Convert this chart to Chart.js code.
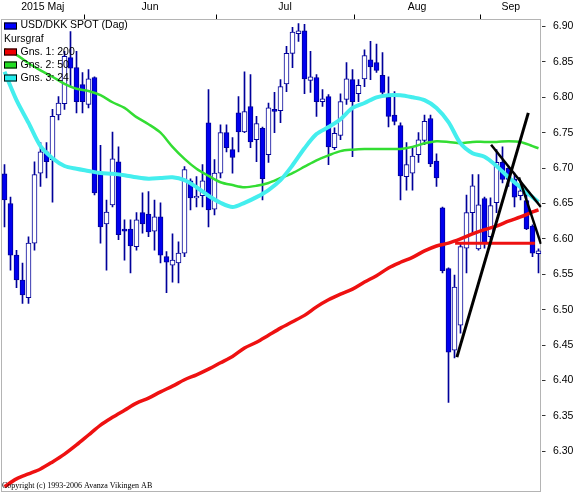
<!DOCTYPE html>
<html><head><meta charset="utf-8">
<script src="https://cdn.jsdelivr.net/npm/chart.js@4.4.1/dist/chart.umd.min.js"></script>
<style>html,body{margin:0;padding:0;background:#fff;overflow:hidden}canvas{display:block}</style>
</head><body>
<canvas id="c" width="576" height="492"></canvas>
<script>
// ---- Data ----
const monthLabels = ['2015 Maj', 'Jun', 'Jul', 'Aug', 'Sep'];
const monthStartIdx = [13, 35, 58, 79];           // first trading day of Jun, Jul, Aug, Sep
const yTickValues = [6.30, 6.35, 6.40, 6.45, 6.50, 6.55, 6.60, 6.65, 6.70, 6.75, 6.80, 6.85, 6.90];

const openP = [6.692,6.650,6.577,6.542,6.517,6.594,6.693,6.723,6.712,6.775,
6.791,6.856,6.842,6.818,6.790,6.828,6.692,6.621,6.648,6.709,
6.614,6.614,6.589,6.637,6.635,6.611,6.631,6.575,6.563,6.566,
6.580,6.682,6.658,6.661,6.764,6.642,6.693,6.750,6.726,6.778,
6.751,6.787,6.740,6.756,6.719,6.783,6.781,6.819,6.862,6.890,
6.894,6.824,6.828,6.794,6.801,6.729,6.746,6.797,6.825,6.805,
6.826,6.853,6.849,6.831,6.800,6.775,6.760,6.688,6.693,6.719,
6.739,6.770,6.710,6.644,6.558,6.443,6.478,6.587,6.637,6.586,
6.657,6.603,6.651,6.708,6.700,6.684,6.661,6.654,6.618,6.579];
const highP = [6.705,6.659,6.584,6.566,6.603,6.709,6.736,6.736,6.783,6.801,
6.865,6.893,6.865,6.835,6.839,6.829,6.732,6.655,6.751,6.730,
6.627,6.627,6.637,6.665,6.667,6.655,6.651,6.582,6.607,6.596,
6.702,6.685,6.688,6.705,6.811,6.712,6.761,6.761,6.743,6.801,
6.836,6.832,6.773,6.758,6.792,6.807,6.825,6.872,6.899,6.904,
6.903,6.865,6.832,6.811,6.804,6.757,6.805,6.849,6.839,6.825,
6.867,6.879,6.875,6.863,6.829,6.808,6.764,6.736,6.729,6.750,
6.775,6.775,6.720,6.645,6.559,6.549,6.594,6.662,6.691,6.691,
6.659,6.658,6.726,6.730,6.702,6.693,6.676,6.669,6.620,6.586];
const lowP = [6.617,6.556,6.531,6.509,6.509,6.584,6.674,6.686,6.652,6.768,
6.783,6.815,6.778,6.778,6.785,6.662,6.594,6.556,6.645,6.599,
6.570,6.552,6.584,6.608,6.603,6.584,6.566,6.524,6.539,6.538,
6.575,6.641,6.645,6.645,6.617,6.634,6.686,6.723,6.693,6.723,
6.750,6.729,6.709,6.655,6.708,6.750,6.764,6.808,6.842,6.879,
6.805,6.807,6.773,6.787,6.705,6.726,6.740,6.790,6.716,6.794,
6.815,6.825,6.835,6.804,6.758,6.761,6.655,6.669,6.669,6.708,
6.733,6.702,6.674,6.552,6.369,6.432,6.467,6.552,6.608,6.584,
6.587,6.599,6.637,6.679,6.674,6.645,6.655,6.613,6.575,6.552];
const closeP = [6.655,6.577,6.542,6.521,6.594,6.691,6.723,6.709,6.773,6.792,
6.858,6.841,6.794,6.794,6.826,6.665,6.617,6.638,6.713,6.606,
6.611,6.590,6.627,6.621,6.610,6.631,6.577,6.567,6.570,6.580,
6.698,6.658,6.660,6.682,6.641,6.693,6.750,6.729,6.715,6.751,
6.780,6.737,6.763,6.685,6.785,6.780,6.815,6.862,6.892,6.894,
6.826,6.829,6.794,6.798,6.730,6.749,6.794,6.826,6.794,6.817,
6.859,6.843,6.838,6.807,6.773,6.766,6.689,6.705,6.717,6.740,
6.766,6.706,6.686,6.555,6.440,6.532,6.589,6.637,6.675,6.648,
6.594,6.647,6.708,6.684,6.684,6.659,6.668,6.614,6.580,6.583];

const maIdx = [0,2,4,6,8,10,12,14,16,18,20,22,24,26,28,30,32,34,36,38,40,42,44,46,48,50,52,54,56,58,60,62,64,66,68,70,72,74,76,78,80,82,84,86,88,89];
const ma200 = [6.250,6.261,6.268,6.275,6.285,6.296,6.309,6.323,6.337,6.348,6.358,6.368,6.375,6.384,6.392,6.401,6.408,6.416,6.425,6.434,6.446,6.454,6.464,6.474,6.483,6.492,6.504,6.514,6.522,6.529,6.539,6.548,6.559,6.567,6.574,6.583,6.590,6.594,6.600,6.607,6.613,6.618,6.625,6.631,6.638,6.641];
const ma50 = [6.868,6.860,6.848,6.838,6.829,6.819,6.812,6.809,6.803,6.793,6.785,6.772,6.762,6.750,6.730,6.713,6.699,6.689,6.680,6.676,6.673,6.675,6.679,6.686,6.693,6.702,6.711,6.718,6.724,6.726,6.727,6.727,6.727,6.727,6.730,6.735,6.738,6.737,6.735,6.737,6.737,6.737,6.738,6.737,6.731,6.728];
const ma24 = [6.836,6.796,6.764,6.731,6.714,6.703,6.699,6.696,6.693,6.692,6.690,6.687,6.685,6.686,6.687,6.683,6.673,6.661,6.651,6.645,6.651,6.659,6.669,6.683,6.704,6.728,6.748,6.758,6.769,6.785,6.792,6.800,6.803,6.803,6.800,6.796,6.785,6.765,6.735,6.721,6.716,6.703,6.687,6.673,6.659,6.652];

// hand-drawn analysis lines: [index, price] end points
const supportLine = [[75.1, 6.594], [88.4, 6.594]];
const trendUp = [[75.4, 6.433], [87.3, 6.778]];
const fanLineA = [[81.1, 6.733], [89.4, 6.645]];
const fanLineB = [[85.75, 6.687], [89.4, 6.593]];

const legendTexts = ['USD/DKK SPOT (Dag)', 'Kursgraf', 'Gns. 1: 200', 'Gns. 2: 50', 'Gns. 3: 24'];
const copyrightText = 'Copyright (c) 1993-2006 Avanza Vikingen AB';

// ---- Build datasets ----
const C_UP_FILL = '#ffffff', C_DOWN_FILL = '#0000ee', C_EDGE = '#00009a';
const C_RED = '#ee1111', C_GREEN = '#33dd33', C_CYAN = '#44eeee';

const wickData = lowP.map((l, i) => ({x: i, y: [l, highP[i]]}));
const bodyData = openP.map((o, i) => ({x: i, y: [Math.min(o, closeP[i]), Math.max(o, closeP[i])]}));
const bodyFill = openP.map((o, i) => closeP[i] < o ? C_DOWN_FILL : C_UP_FILL);
const toPts = (idx, vals) => idx.map((x, k) => ({x, y: vals[k]}));
const segPts = seg => seg.map(p => ({x: p[0], y: p[1]}));

const X_MIN = -0.5, X_MAX = 89.5;
const Y_MIN = 6.90 - 465 / 708, Y_MAX = 6.90 + 7 / 708;

const boundaries = monthStartIdx.map(v => v + 0.25);
const edges = [X_MIN, ...boundaries, X_MAX];
const labelPos = monthLabels.map((_, k) => (edges[k] + edges[k + 1]) / 2);

const FONT = '"Liberation Sans", Arial, sans-serif';
const noPad = s => { s.paddingLeft = 0; s.paddingRight = 0; s.paddingTop = 0; s.paddingBottom = 0; };

const framePlugin = {
  id: 'frame',
  beforeDatasetsDraw(chart) {
    const a = chart.chartArea, ctx = chart.ctx;
    ctx.save();
    ctx.strokeStyle = '#b4b4b4';
    ctx.lineWidth = 1;
    ctx.strokeRect(a.left, a.top, (a.right - 1) - a.left, a.bottom - a.top);
    ctx.restore();
  }
};

const textPlugin = {
  id: 'texts',
  afterDatasetsDraw(chart) {
    const ctx = chart.ctx;
    ctx.save();
    ctx.font = '10.5px ' + FONT;
    ctx.textBaseline = 'middle';
    ctx.textAlign = 'left';
    const boxColors = ['#0000ff', null, '#ee0000', '#22dd22', '#22eeee'];
    legendTexts.forEach((t, k) => {
      const cy = 25.6 + 13.1 * k;
      const c = boxColors[k];
      if (c) {
        ctx.fillStyle = c;
        ctx.fillRect(4, Math.round(cy) - 3.5, 13, 7);
        ctx.strokeStyle = '#000';
        ctx.lineWidth = 1;
        ctx.strokeRect(4.5, Math.round(cy) - 3, 12, 6);
        ctx.fillStyle = '#000';
        ctx.fillText(t, 20.5, cy);
      } else {
        ctx.fillStyle = '#000';
        ctx.fillText(t, 4, cy);
      }
    });
    ctx.font = '8px "Liberation Serif", "Times New Roman", serif';
    ctx.textBaseline = 'alphabetic';
    ctx.fillText(copyrightText, 2, 487.5);
    ctx.restore();
  }
};

new Chart(document.getElementById('c'), {
  type: 'bar',
  data: {
    datasets: [
      {type: 'bar', data: wickData, backgroundColor: C_EDGE, borderWidth: 0, barThickness: 1, grouped: false, order: 10},
      {type: 'bar', data: bodyData, backgroundColor: bodyFill, borderColor: C_EDGE, borderWidth: 1, borderSkipped: false, barThickness: 5, grouped: false, minBarLength: 1, order: 9},
      {type: 'line', data: toPts(maIdx, ma200), borderColor: C_RED, borderWidth: 3.5, pointRadius: 0, tension: 0.3, order: 5},
      {type: 'line', data: toPts(maIdx, ma50), borderColor: C_GREEN, borderWidth: 2.5, pointRadius: 0, tension: 0.3, order: 4},
      {type: 'line', data: toPts(maIdx, ma24), borderColor: C_CYAN, borderWidth: 4, pointRadius: 0, tension: 0.3, order: 3},
      {type: 'line', data: segPts(supportLine), borderColor: C_RED, borderWidth: 3, pointRadius: 0, order: 2},
      {type: 'line', data: segPts(trendUp), borderColor: '#000', borderWidth: 3, pointRadius: 0, order: 1},
      {type: 'line', data: segPts(fanLineA), borderColor: '#000', borderWidth: 2.5, pointRadius: 0, order: 1},
      {type: 'line', data: segPts(fanLineB), borderColor: '#000', borderWidth: 2.5, pointRadius: 0, order: 1}
    ]
  },
  options: {
    responsive: false,
    animation: false,
    devicePixelRatio: 1,
    layout: {padding: {left: 1.5, top: 0, right: 0, bottom: 0.5}},
    plugins: {legend: {display: false}, tooltip: {enabled: false}},
    scales: {
      x: {type: 'linear', min: X_MIN, max: X_MAX, display: false, offset: false, grid: {offset: false}},
      xTop: {
        type: 'linear', position: 'top', min: X_MIN, max: X_MAX, weight: 0, offset: false,
        afterBuildTicks: s => { s.ticks = boundaries.map(v => ({value: v})); },
        afterFit: s => { s.height = 5.5; noPad(s); },
        grid: {drawOnChartArea: false, drawTicks: true, tickLength: 5, color: '#000', offset: false},
        border: {display: false},
        ticks: {display: false}
      },
      xLab: {
        type: 'linear', position: 'top', min: X_MIN, max: X_MAX, weight: 1, offset: false,
        afterBuildTicks: s => { s.ticks = labelPos.map(v => ({value: v})); },
        afterFit: s => { s.height = 14; noPad(s); },
        grid: {display: false, drawTicks: false, offset: false},
        border: {display: false},
        ticks: {autoSkip: false, maxRotation: 0, padding: 1, color: '#000',
          font: {family: FONT, size: 10.5},
          callback: (v, i) => monthLabels[i]}
      },
      y: {
        type: 'linear', position: 'right', min: Y_MIN, max: Y_MAX, beginAtZero: false,
        afterBuildTicks: s => { s.ticks = yTickValues.map(v => ({value: v})); },
        afterFit: s => { s.width = 34.5; noPad(s); },
        grid: {drawOnChartArea: false, drawTicks: true, tickLength: 4, color: '#333'},
        border: {display: false},
        ticks: {padding: 7.5, color: '#000', font: {family: FONT, size: 10.5},
          callback: v => Number(v).toFixed(2)}
      }
    }
  },
  plugins: [framePlugin, textPlugin]
});
</script>
</body></html>
